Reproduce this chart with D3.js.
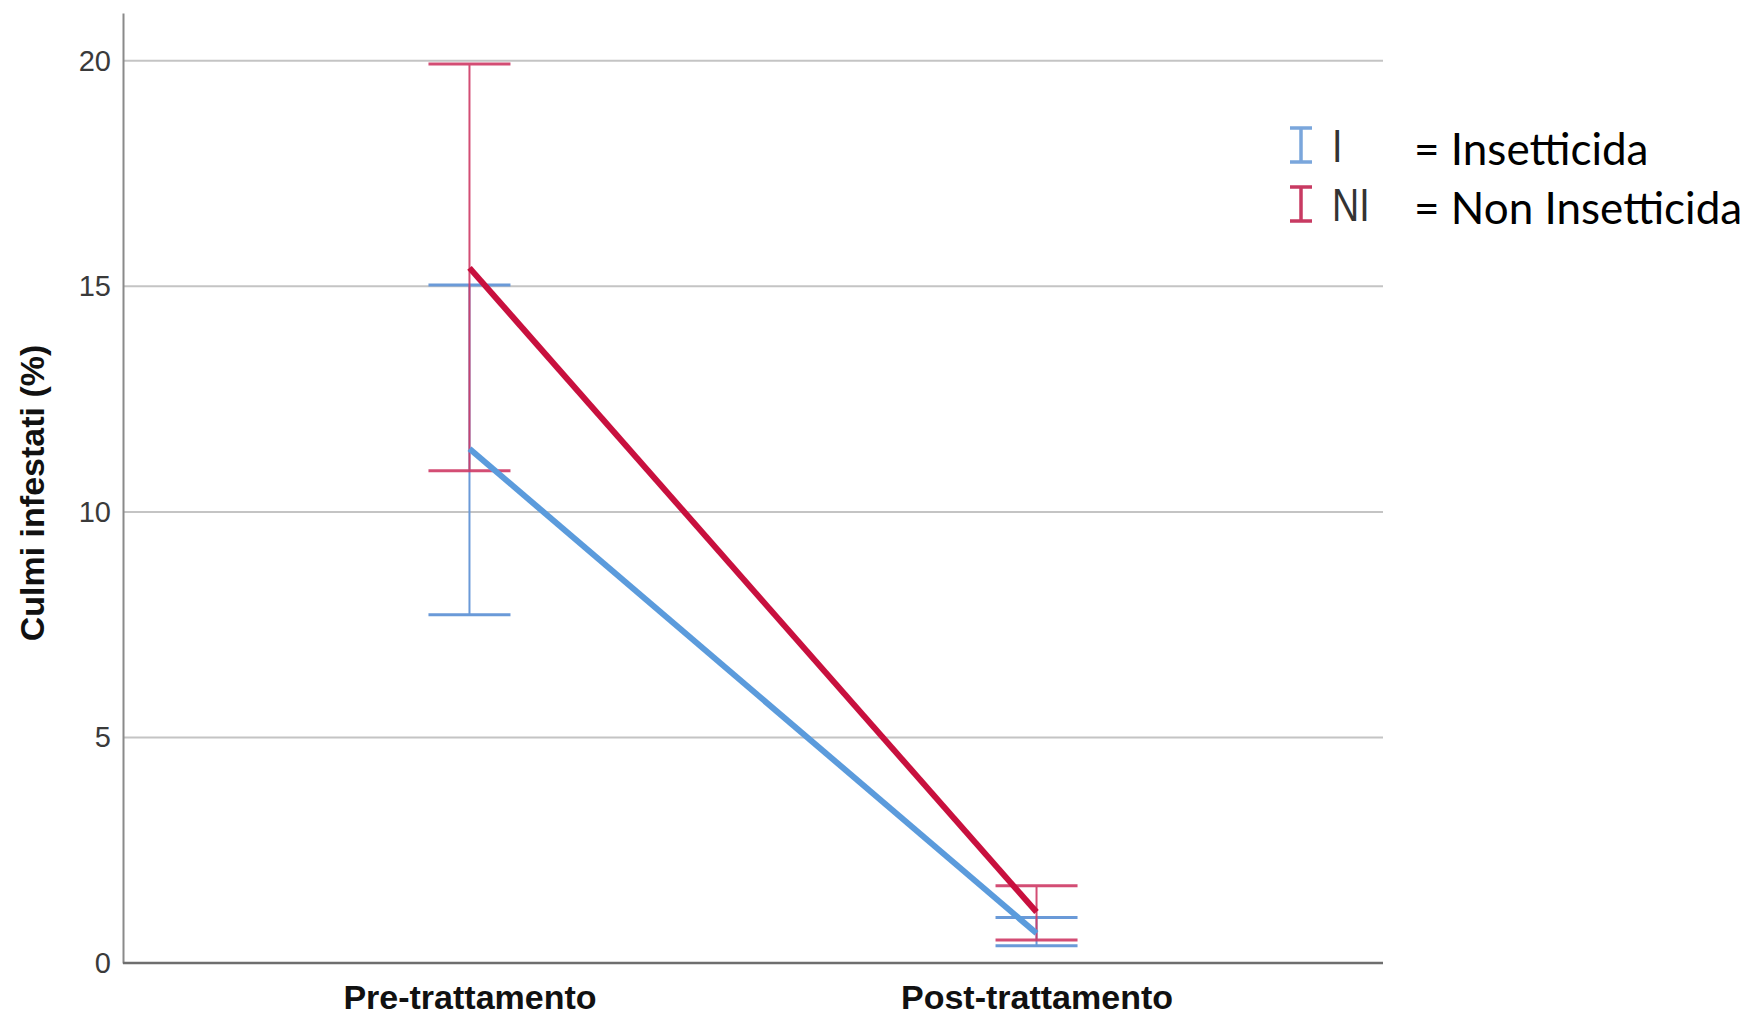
<!DOCTYPE html>
<html>
<head>
<meta charset="utf-8">
<script src="https://cdn.jsdelivr.net/npm/d3@7"></script>
<style>
  html, body { margin: 0; padding: 0; background: #fff; }
  svg { display: block; }
</style>
</head>
<body>
<svg id="chart" width="1749" height="1016"></svg>
<script>
const categories = ["Pre-trattamento", "Post-trattamento"];
const seriesKeys = ["I", "NI"];
const seriesLabels = ["= Insetticida", "= Non Insetticida"];
const meanI = [11.4, 0.66];
const lowI = [7.72, 0.38];
const highI = [15.03, 1.01];
const meanNI = [15.41, 1.13];
const lowNI = [10.91, 0.51];
const highNI = [19.93, 1.71];
const yTicks = [0, 5, 10, 15, 20];
const yMax = 21.06;

const colors = { I: "#5b9bdc", NI: "#c8103e" };
const errColors = { I: "#6a9ad8", NI: "#cf3a66" };

const series = [
  { key: "I", mean: meanI, low: lowI, high: highI },
  { key: "NI", mean: meanNI, low: lowNI, high: highNI },
];

const svg = d3.select("#chart");
const plotLeft = 123, plotRight = 1383, plotTop = 13, plotBottom = 963;

const x = d3.scalePoint().domain(categories).range([plotLeft, plotRight]).padding(0.611);
const y = d3.scaleLinear().domain([0, yMax]).range([plotBottom, plotTop]);

// grid lines
svg.append("g")
  .selectAll("line")
  .data(yTicks.filter((d) => d > 0))
  .enter()
  .append("line")
  .attr("x1", plotLeft)
  .attr("x2", plotRight)
  .attr("y1", (d) => y(d))
  .attr("y2", (d) => y(d))
  .attr("stroke", "#c4c4c4")
  .attr("stroke-width", 2);

// y axis
const yAxis = svg.append("g")
  .attr("transform", `translate(${plotLeft},0)`)
  .call(d3.axisLeft(y).tickValues(yTicks).tickSize(0).tickPadding(12).tickFormat(d3.format("d")));
yAxis.select(".domain").attr("stroke", "#8a8a8a").attr("stroke-width", 2);
yAxis.selectAll("text")
  .style("font-family", "'Liberation Sans', Arial, sans-serif")
  .style("font-size", "29px")
  .style("fill", "#3a3a3a");

// x axis
const xAxis = svg.append("g")
  .attr("transform", `translate(0,${plotBottom})`)
  .call(d3.axisBottom(x).tickSize(0).tickPadding(22).tickSizeOuter(0));
xAxis.select(".domain")
  .attr("d", `M${plotLeft},0H${plotRight}`)
  .attr("stroke", "#6e6e6e")
  .attr("stroke-width", 2.5);
xAxis.selectAll("text")
  .attr("dy", "0.71em")
  .style("font-family", "'Liberation Sans', Arial, sans-serif")
  .style("font-size", "34px")
  .style("font-weight", "bold")
  .style("fill", "#111");

// y title
svg.append("text")
  .attr("transform", `translate(44,${(y(0) + y(yMax)) / 2 + 5}) rotate(-90)`)
  .attr("text-anchor", "middle")
  .style("font-family", "'Liberation Sans', Arial, sans-serif")
  .style("font-size", "34px")
  .style("font-weight", "bold")
  .style("fill", "#111")
  .text("Culmi infestati (%)");

// error bars
const capHalf = 41;
series.forEach((s) => {
  const g = svg.append("g")
    .attr("stroke", errColors[s.key])
    .attr("opacity", s.key === "NI" ? 0.9 : 1);
  categories.forEach((c, i) => {
    g.append("line")
      .attr("x1", x(c)).attr("x2", x(c))
      .attr("y1", y(s.low[i])).attr("y2", y(s.high[i]))
      .attr("stroke-width", 2);
    [s.low[i], s.high[i]].forEach((v) => {
      g.append("line")
        .attr("x1", x(c) - capHalf).attr("x2", x(c) + capHalf)
        .attr("y1", y(v)).attr("y2", y(v))
        .attr("stroke-width", 3);
    });
  });
});

// mean lines
const line = d3.line()
  .x((d) => x(d.cat))
  .y((d) => y(d.v));

series.forEach((s) => {
  svg.append("path")
    .datum(categories.map((c, i) => ({ cat: c, v: s.mean[i] })))
    .attr("d", line)
    .attr("fill", "none")
    .attr("stroke", colors[s.key])
    .attr("stroke-width", 6);
});

// legend
const legend = svg.append("g").attr("transform", "translate(1301,145)");
const rowGap = 59;
seriesKeys.forEach((k, i) => {
  const row = legend.append("g").attr("transform", `translate(0,${i * rowGap})`);
  row.append("path")
    .attr("d", "M-11,-17H11M0,-17V17M-11,17H11")
    .attr("fill", "none")
    .attr("stroke", i === 0 ? "#7aa6dc" : "#c83a62")
    .attr("stroke-width", 3.5);
  row.append("text")
    .attr("transform", `translate(31,17) scale(0.8,1)`)
    .style("font-family", "'Liberation Sans', Arial, sans-serif")
    .style("font-size", "47px")
    .style("fill", "#333")
    .text(k);
  row.append("text")
    .attr("x", 113)
    .attr("y", 20)
    .style("font-family", "Lato, 'Open Sans', sans-serif")
    .style("font-size", "44px")
    .style("fill", "#000")
    .text(seriesLabels[i]);
});
</script>
</body>
</html>
